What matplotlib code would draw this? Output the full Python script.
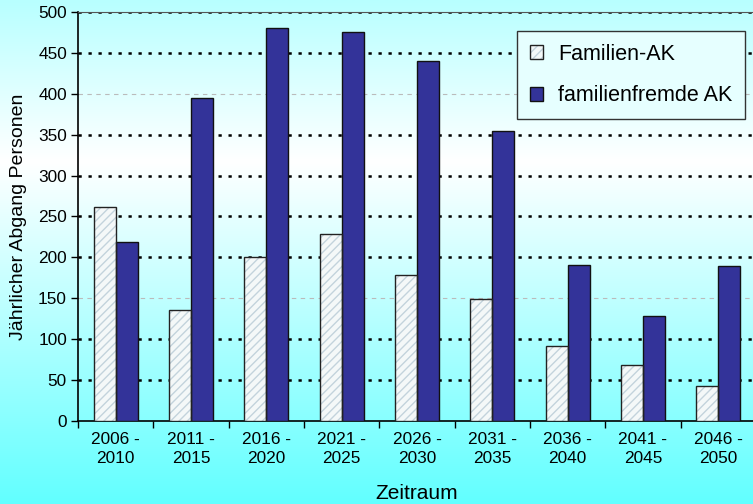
import numpy as np
import matplotlib.pyplot as plt
from matplotlib.colors import LinearSegmentedColormap
from matplotlib.patches import Patch
from matplotlib.legend_handler import HandlerTuple

plt.rcParams['font.family'] = ['Liberation Sans', 'DejaVu Sans']
plt.rcParams['hatch.linewidth'] = 1.0

# Daten
zeitraum = ['2006 -\n2010', '2011 -\n2015', '2016 -\n2020', '2021 -\n2025', '2026 -\n2030',
            '2031 -\n2035', '2036 -\n2040', '2041 -\n2045', '2046 -\n2050']
familien_ak = [262, 136, 201, 228, 178, 149, 92, 68, 43]
familienfremde_ak = [219, 395, 481, 476, 440, 355, 191, 128, 190]

fig = plt.figure(figsize=(7.53, 5.04), dpi=100)

# Hintergrund mit Farbverlauf
bg = fig.add_axes([0, 0, 1, 1], zorder=-10)
cmap = LinearSegmentedColormap.from_list('bg', [(0.0, '#62ffff'), (0.68, '#ffffff'), (1.0, '#b8ffff')])
grad = np.linspace(0, 1, 256).reshape(-1, 1)
bg.imshow(grad, aspect='auto', cmap=cmap, origin='lower', extent=[0, 1, 0, 1])
bg.axis('off')

ax = fig.add_axes([78 / 753, 83 / 504, 678 / 753, 409 / 504])
ax.patch.set_alpha(0)

x = np.arange(len(zeitraum))
w = 0.29
hatch_col = '#c3d3dc'
# Schraffur und Rahmen getrennt zeichnen
ax.bar(x - w / 2, familien_ak, w, color='#f4f8f8', edgecolor=hatch_col, linewidth=0,
       hatch='////', zorder=3)
ax.bar(x - w / 2, familien_ak, w, facecolor='none', edgecolor='#222222', linewidth=1, zorder=4)
ax.bar(x + w / 2, familienfremde_ak, w, color='#333399', edgecolor='#111111', linewidth=1,
       zorder=3)

# Gitterlinien
for v in range(50, 501, 50):
    if v in (150, 400):
        ax.axhline(v, color='#bbbbbb', linestyle=(0, (4, 4)), linewidth=0.8, zorder=1)
    else:
        ax.axhline(v, color='black', linestyle=(0, (1.3, 2.7)), linewidth=1.8, zorder=1)

ax.set_xlim(-0.5, len(zeitraum) - 0.5)
ax.set_ylim(0, 500)
ax.set_yticks(range(0, 501, 50))
ax.set_xticks(np.arange(-0.5, len(zeitraum), 1))
ax.set_xticklabels([])
ax.set_xticks(x, minor=True)
ax.set_xticklabels(zeitraum, minor=True, fontsize=12.4, linespacing=1.3)
ax.tick_params(axis='x', which='minor', length=0, pad=8)
ax.tick_params(axis='x', which='major', length=5, width=1, direction='out')
ax.tick_params(axis='y', length=5, width=1, direction='out', labelsize=12.4, pad=3)

ax.spines['right'].set_visible(False)
ax.spines['top'].set_color('#555555')
ax.spines['left'].set_linewidth(1.2)
ax.spines['bottom'].set_linewidth(1.2)

ax.set_ylabel('Jährlicher Abgang Personen', fontsize=14, labelpad=8)
ax.set_xlabel('Zeitraum', fontsize=15, labelpad=13)

h_fam = (Patch(facecolor='#f4f8f8', edgecolor=hatch_col, hatch='////', linewidth=0),
         Patch(facecolor='none', edgecolor='#222222', linewidth=1))
h_fremd = Patch(facecolor='#333399', edgecolor='#111111', linewidth=1)
leg = ax.legend([h_fam, h_fremd], ['Familien-AK', 'familienfremde AK'],
                handler_map={tuple: HandlerTuple(ndivide=1, pad=0)},
                loc='upper left', bbox_to_anchor=(517 / 753, 1 - 31 / 504),
                bbox_transform=fig.transFigure, borderaxespad=0, fontsize=15.5,
                handlelength=0.6, handleheight=0.6, handletextpad=0.7,
                labelspacing=0.95, borderpad=0.6, fancybox=False)
frame = leg.get_frame()
frame.set_facecolor('#e6ffff')
frame.set_edgecolor('#333333')
frame.set_linewidth(1)
frame.set_alpha(1)

fig.savefig('out.png', dpi=100)
